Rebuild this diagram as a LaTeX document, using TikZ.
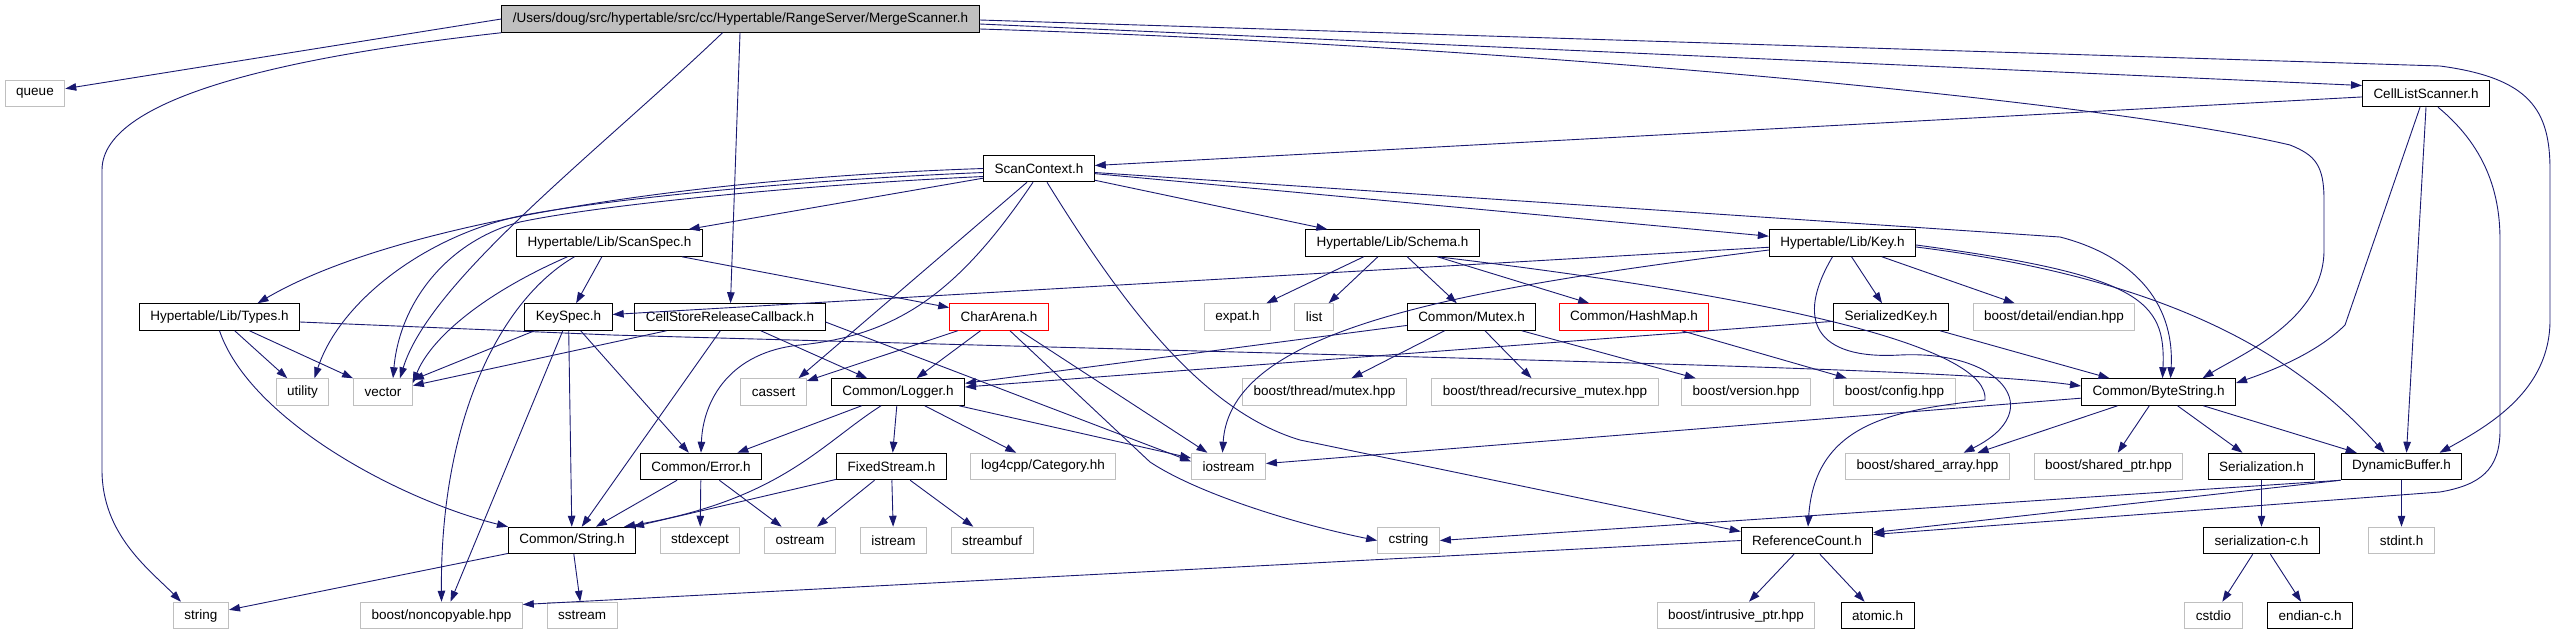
\documentclass[tikz,border=0pt]{standalone}
\usepackage{fontspec}
\setmainfont{Liberation Sans}
\usetikzlibrary{arrows.meta}
\definecolor{edgeblue}{HTML}{191970}
\definecolor{hdrgray}{HTML}{BFBFBF}

\begin{document}
\begin{tikzpicture}[
    x=1pt, y=-1pt,
    font=\fontsize{13.5}{16}\selectfont,
    >={Triangle[length=11pt,width=7.5pt]},
    box/.style={draw, minimum height=26.5pt, inner xsep=11pt, inner ysep=0pt,
                line width=1pt},
    docfile/.style={box, draw=black},
    syshdr/.style={box, draw=hdrgray},
    trunc/.style={box, draw=red},
    rootfile/.style={box, draw=black, fill=hdrgray},
    flow/.style={->, draw=edgeblue, line width=0.9pt}
]
\useasboundingbox (0,0) rectangle (2569,635);
\node[rootfile] (root) at (740.5,19)
    {/Users/doug/src/hypertable/src/cc/Hypertable/RangeServer/MergeScanner.h};
\node[syshdr] (queue) at (35,93.5) {queue};
\node[docfile] (cls) at (2426,93.5) {CellListScanner.h};
\node[docfile] (scanctx) at (1039,168.5) {ScanContext.h};
\node[docfile] (scanspec) at (609.5,243) {Hypertable/Lib/ScanSpec.h};
\node[docfile] (schema) at (1392.5,243) {Hypertable/Lib/Schema.h};
\node[docfile] (key) at (1842.5,243) {Hypertable/Lib/Key.h};
\node[docfile] (types) at (219.5,317) {Hypertable/Lib/Types.h};
\node[docfile] (keyspec) at (568.5,317) {KeySpec.h};
\node[docfile] (crc) at (730,317) {CellStoreReleaseCallback.h};
\node[trunc] (chararena) at (999,317) {CharArena.h};
\node[syshdr] (expat) at (1237.5,317) {expat.h};
\node[syshdr] (list) at (1314,317) {list};
\node[docfile] (mutex) at (1471.5,317) {Common/Mutex.h};
\node[trunc] (hashmap) at (1634,317) {Common/HashMap.h};
\node[docfile] (serkey) at (1891,317) {SerializedKey.h};
\node[syshdr] (endian) at (2054,317) {boost/detail/endian.hpp};
\node[syshdr] (utility) at (302.5,392) {utility};
\node[syshdr] (vector) at (383,392) {vector};
\node[syshdr] (cassert) at (773.5,392) {cassert};
\node[docfile] (logger) at (898,392) {Common/Logger.h};
\node[syshdr] (bmutex) at (1324.5,392) {boost/thread/mutex.hpp};
\node[syshdr] (brmutex) at (1545,392) {boost/thread/recursive\_mutex.hpp};
\node[syshdr] (bversion) at (1746,392) {boost/version.hpp};
\node[syshdr] (bconfig) at (1894.5,392) {boost/config.hpp};
\node[docfile] (bytes) at (2158.5,392) {Common/ByteString.h};
\node[docfile] (error) at (701,466.5) {Common/Error.h};
\node[docfile] (fixed) at (891.5,466.5) {FixedStream.h};
\node[syshdr] (log4cpp) at (1043,466.5) {log4cpp/Category.hh};
\node[syshdr] (iostream) at (1228.5,466.5) {iostream};
\node[syshdr] (sharr) at (1927.5,466.5) {boost/shared\_array.hpp};
\node[syshdr] (shptr) at (2108.5,466.5) {boost/shared\_ptr.hpp};
\node[docfile] (serial) at (2261.5,466.5) {Serialization.h};
\node[docfile] (dynbuf) at (2401.5,466.5) {DynamicBuffer.h};
\node[docfile] (strh) at (572,540.5) {Common/String.h};
\node[syshdr] (stdexcept) at (700,540.5) {stdexcept};
\node[syshdr] (ostream) at (800,540.5) {ostream};
\node[syshdr] (istream) at (893.5,540.5) {istream};
\node[syshdr] (streambuf) at (992,540.5) {streambuf};
\node[syshdr] (cstring) at (1408.5,540.5) {cstring};
\node[docfile] (refcnt) at (1807,540.5) {ReferenceCount.h};
\node[docfile] (serialc) at (2261.5,540.5) {serialization-c.h};
\node[syshdr] (stdint) at (2401.5,540.5) {stdint.h};
\node[syshdr] (string) at (201,615.5) {string};
\node[syshdr] (noncopy) at (441.5,615.5) {boost/noncopyable.hpp};
\node[syshdr] (sstream) at (582,615.5) {sstream};
\node[syshdr] (intrptr) at (1736,615.5) {boost/intrusive\_ptr.hpp};
\node[docfile] (atomic) at (1877.5,615.5) {atomic.h};
\node[syshdr] (cstdio) at (2213.5,615.5) {cstdio};
\node[docfile] (endianc) at (2310,615.5) {endian-c.h};
\draw[flow] (root.west) -- (queue);
\draw[flow] (root.south west) .. controls (300,55) and (102,95) .. (102,170)
    -- (102,470) .. controls (102,535) and (150,570) .. ([xshift=-20pt]string.north);
\draw[flow] ([xshift=-18pt]root.south) .. controls (600,150) and (430,280)
    .. ([xshift=17pt]vector.north);
\draw[flow] (root) -- (crc);
\draw[flow] ([yshift=-1pt]root.east) -- (2440,66) .. controls (2530,78) and (2550,110)
    .. (2550,170) -- (2550,320) .. controls (2550,390) and (2490,425)
    .. ([xshift=38pt]dynbuf.north);
\draw[flow] ([yshift=-5pt]root.east) -- ([yshift=8pt]cls.west);
\draw[flow] ([yshift=-10pt]root.east) .. controls (1500,45) and (2100,100) .. (2290,145)
    .. controls (2315,155) and (2324,165) .. (2324,200) -- (2324,250)
    .. controls (2324,320) and (2240,355) .. ([xshift=44pt]bytes.north);
\draw[flow] (cls) -- (scanctx);
\draw[flow] ([xshift=-6pt]cls.south) -- (2345,325) .. controls (2320,350) and (2280,368)
    .. ([yshift=9pt]bytes.east);
\draw[flow] (cls.south) -- ([xshift=5pt]dynbuf.north);
\draw[flow] ([xshift=12pt]cls.south) .. controls (2490,150) and (2500,200) .. (2500,240)
    -- (2500,430) .. controls (2500,470) and (2480,485) .. (2440,492)
    -- ([yshift=6pt]refcnt.east);
\draw[flow] (scanctx.west) .. controls (700,178) and (400,220) .. ([xshift=38pt]types.north);
\draw[flow] ([yshift=-4pt]scanctx.west) .. controls (800,180) and (620,198) .. (530,214)
    .. controls (430,232) and (340,300) .. ([xshift=12pt]utility.north);
\draw[flow] ([yshift=-8pt]scanctx.west) .. controls (800,185) and (600,205) .. (520,222)
    .. controls (450,240) and (400,300) .. ([xshift=10pt]vector.north);
\draw[flow] (scanctx) -- (scanspec);
\draw[flow] (scanctx) -- (schema);
\draw[flow] (scanctx) -- (key);
\draw[flow] ([xshift=-12pt]scanctx.south) -- ([xshift=25pt]cassert.north);
\draw[flow] ([xshift=-6pt]scanctx.south) .. controls (960,290) and (900,335) .. (800,345)
    .. controls (730,352) and (703,400) .. (error.north);
\draw[flow] ([xshift=8pt]scanctx.south) .. controls (1120,300) and (1200,410) .. (1300,440)
    -- ([yshift=9pt]refcnt.west);
\draw[flow] ([yshift=-4pt]scanctx.east) -- (2060,237) .. controls (2130,255) and (2175,300)
    .. ([xshift=12pt]bytes.north);
\draw[flow] (key) -- (keyspec);
\draw[flow] (key) -- (serkey);
\draw[flow] (key) -- (endian);
\draw[flow] ([yshift=-2pt]key.east) .. controls (2140,275) and (2166,300)
    .. ([xshift=4pt]bytes.north);
\draw[flow] ([yshift=-4pt]key.east) .. controls (2180,280) and (2300,360)
    .. ([xshift=-17pt]dynbuf.north);
\draw[flow] ([yshift=-7pt]key.west) .. controls (1450,290) and (1230,330)
    .. ([xshift=-6pt]iostream.north);
\draw[flow] ([xshift=-10pt]key.south) .. controls (1795,320) and (1815,360) .. (1900,355)
    .. controls (2000,350) and (2050,410) .. ([xshift=36pt]sharr.north);
\draw[flow] (schema) -- (expat);
\draw[flow] (schema) -- (list);
\draw[flow] (schema) -- (mutex);
\draw[flow] (schema) -- (hashmap);
\draw[flow] ([xshift=45pt]schema.south) .. controls (1800,300) and (1990,350) .. (1985,400)
    .. controls (1900,410) and (1815,420) .. ([xshift=1pt]refcnt.north);
\draw[flow] (mutex) -- (logger);
\draw[flow] (mutex) -- (bmutex);
\draw[flow] (mutex) -- (brmutex);
\draw[flow] (mutex) -- (bversion);
\draw[flow] (hashmap) -- (bconfig);
\draw[flow] (serkey) -- (logger);
\draw[flow] (serkey) -- (bytes);
\draw[flow] (types) -- (utility);
\draw[flow] (types) -- (vector);
\draw[flow] (types.south) .. controls (250,420) and (400,500) .. (strh.north west);
\draw[flow] ([yshift=-5pt]types.east) -- (612,335) .. controls (1500,360) and (1950,368)
    .. ([yshift=6pt]bytes.west);
\draw[flow] (scanspec) -- (keyspec);
\draw[flow] (scanspec) -- (chararena);
\draw[flow] ([xshift=-42pt]scanspec.south) .. controls (480,295) and (430,340)
    .. ([yshift=9pt]vector.east);
\draw[flow] ([xshift=-35pt]scanspec.south) .. controls (500,300) and (440,420) .. (noncopy.north);
\draw[flow] (keyspec) -- (vector);
\draw[flow] (keyspec) -- (strh);
\draw[flow] (keyspec) -- (error);
\draw[flow] (keyspec) -- ([xshift=9pt]noncopy.north);
\draw[flow] (crc) -- (vector);
\draw[flow] (crc) -- (logger);
\draw[flow] (crc) -- (strh);
\draw[flow] ([yshift=-5pt]crc.east) -- ([yshift=5pt]iostream.west);
\draw[flow] (chararena) -- (cassert);
\draw[flow] (chararena) -- (logger);
\draw[flow] (chararena) -- (iostream);
\draw[flow] ([xshift=11pt]chararena.south) -- (1150,462) .. controls (1200,495) and (1300,525)
    .. (cstring.west);
\draw[flow] (logger) -- (error);
\draw[flow] ([xshift=-17pt]logger.south) .. controls (820,445) and (780,500)
    .. ([xshift=52pt]strh.north);
\draw[flow] (logger) -- (fixed);
\draw[flow] (logger) -- (log4cpp);
\draw[flow] (logger) -- (iostream);
\draw[flow] (error) -- (strh);
\draw[flow] (error) -- (stdexcept);
\draw[flow] (error) -- (ostream);
\draw[flow] (fixed) -- ([xshift=-3pt]strh.north east);
\draw[flow] (fixed) -- (ostream);
\draw[flow] (fixed) -- (istream);
\draw[flow] (fixed) -- (streambuf);
\draw[flow] (strh) -- (string);
\draw[flow] (strh) -- (sstream);
\draw[flow] (bytes) -- (iostream);
\draw[flow] (bytes) -- ([xshift=50pt]sharr.north);
\draw[flow] (bytes) -- (shptr);
\draw[flow] (bytes) -- (serial);
\draw[flow] (bytes) -- (dynbuf);
\draw[flow] (dynbuf) -- (stdint);
\draw[flow] (dynbuf.south west) -- ([yshift=8pt]refcnt.east);
\draw[flow] (dynbuf.south west) -- (cstring.east);
\draw[flow] (serial) -- (serialc);
\draw[flow] (serialc) -- (cstdio);
\draw[flow] (serialc) -- (endianc);
\draw[flow] (refcnt.west) -- ([yshift=11pt]noncopy.east);
\draw[flow] (refcnt) -- (intrptr);
\draw[flow] (refcnt) -- (atomic);
\end{tikzpicture}
\end{document}
